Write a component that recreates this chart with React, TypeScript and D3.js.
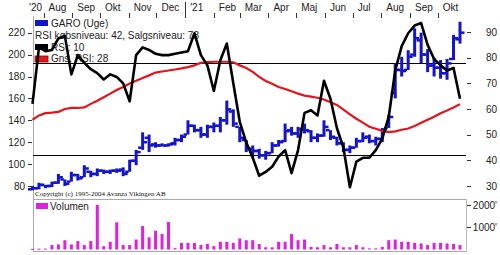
import React from "react";
import * as d3 from "d3";

// ---------- data ----------
const weekStart = new Date(2020, 6, 20);
const weekCount = 67;
const lastWeek = new Date(2021, 9, 25);

const priceLow = [76,77,78,79,82,80,84,85,88,88,89,91,91,92,89,93,99,113,111,115,116,116,117,120,127,129,124,124,129,129,136,134,120,111,106,105,104,110,116,120,126,124,128,120,120,125,122,117,111,110,115,120,119,117,120,133,160,180,186,198,192,184,180,178,177,195,210];
const priceHigh = [80,83,81,84,91,86,93,91,99,94,96,95,95,96,97,104,113,129,127,120,119,119,124,127,140,136,134,136,138,143,158,150,134,122,117,114,112,120,122,137,134,134,137,131,128,140,131,125,120,117,124,129,127,125,133,145,192,198,204,224,220,205,197,195,196,218,230];
const priceOpen = [77,78,81,80,83,86,84,90,88,93,91,94,93,94,95,93,103,115,124,118,117,117,119,122,127,135,131,127,134,135,140,148,134,122,114,112,108,110,117,121,131,128,132,130,124,126,131,124,119,113,115,121,125,121,123,133,165,186,186,200,213,200,190,188,183,196,214];
const priceClose = [78,81,80,83,88,82,90,87,96,91,94,93,94,94,91,103,111,120,117,117,117,118,122,125,135,131,127,134,135,140,150,137,124,114,112,108,110,117,120,130,128,132,131,124,126,134,125,119,113,115,121,124,121,123,131,143,186,185,198,215,200,190,188,183,192,215,220];
const rsi10 = [62,84,82.5,83,87.5,88.5,73.5,81,78,75.5,74,71.5,73.5,72.5,70,63,81,84,83,81.5,81,81,81.5,82,82.5,89.5,81,77,67,79,85.5,70,55,47,41,34,35.5,37.5,41.5,44,35,44,58.5,59.5,57.5,71,64,52.5,45,29.5,39.5,41,41,44,48.5,57,75,84.5,89.5,92.5,93.5,85,79.5,77,75,76,64];
const rsiAvg28 = [55.8,57.5,58.4,58.6,58.9,60,60.4,60.4,60.6,62,63.2,64.6,66,67.4,68.6,69.9,71,72.1,73.1,74.2,74.6,75,75.4,75.8,76.3,77,78,78.3,78.4,78.4,78.4,78.2,77,76,74.5,72.5,70.9,69.8,68.6,67.8,66.9,66,65.2,64.8,64.4,63.7,62.6,61.6,59.8,57.9,56.2,54.7,53.1,52.3,51.5,51,51.3,51.9,52.4,53.4,54.6,55.8,57,58.3,59.4,60.6,61.9];
const volume = [30,40,40,200,230,420,230,380,200,380,2020,150,350,1230,200,200,450,1060,550,850,700,1250,60,300,300,300,200,250,150,350,350,300,500,420,420,250,100,100,350,350,700,420,450,120,100,200,100,250,100,100,200,100,50,50,120,420,450,350,350,300,275,200,300,300,275,250,200];

const monthNames = ["Jan","Feb","Mar","Apr","Maj","Jun","Jul","Aug","Sep","Okt","Nov","Dec"];
const priceTicks = [80,100,120,140,160,180,200,220];
const rsiTicks = [30,40,50,60,70,80,90];
const volumeTicks = [1000,2000];
const buyLevel = 42;
const sellLevel = 78;
const legendMain = ["GARO (Uge)", "RSI købsniveau: 42, Salgsniveau: 78", "RSI: 10", "Gns. RSI: 28"];
const copyright = "Copyright (c) 1995-2004 Avanza Vikingen AB";

// ---------- layout ----------
const W = 500, H = 255;
const L = 33, R = 466;
const FONT = "'Liberation Sans', Arial, sans-serif";
const BLUE = "#1414cc";
const RED = "#e3141c";
const MAG = "#e020e0";

export default function App() {
  const dates = d3.range(weekCount).map((i) => d3.timeDay.offset(weekStart, 7 * i));
  const x = d3.scaleTime().domain([weekStart, lastWeek]).range([32.5, 460]);
  const yP = d3.scaleLinear().domain([80, 220]).range([186, 32.7]);
  const yR = d3.scaleLinear().domain([30, 90]).range([186, 32]);
  const yV = d3.scaleLinear().domain([0, 2000]).range([249.5, 205.3]);

  const rsiLine = d3.line<number>().x((_, i) => x(dates[i])).y((d) => yR(d));
  const months = d3.timeMonth.range(new Date(2020, 6, 1), new Date(2021, 10, 1));

  const txt = { fontFamily: FONT, fontSize: 10, fill: "#222" } as const;

  return (
    <svg width={W} height={H} style={{ display: "block", position: "absolute", left: 0, top: 0, background: "#fff" }}>
      <rect width={W} height={H} fill="#fff" />
      {/* month axis */}
      {months.map((m, k) => {
        const tx = x(m);
        const isYear = m.getMonth() === 0 || k === 0;
        const label = isYear ? "'" + String(m.getFullYear()).slice(2) : monthNames[m.getMonth()];
        return (
          <g key={k}>
            {tx >= L && (
              <line x1={Math.round(tx) + 0.5} x2={Math.round(tx) + 0.5} y1={m.getMonth() === 0 ? 2 : 13} y2={18} stroke="#333" strokeWidth={1} />
            )}
            <text x={Math.max(tx + 5, 29)} y={11} {...txt}>{label}</text>
          </g>
        );
      })}

      {/* frames */}
      <line x1={L + 0.5} x2={L + 0.5} y1={16} y2={252} stroke="#aaa" />
      <line x1={R + 0.5} x2={R + 0.5} y1={199} y2={252} stroke="#bbb" />
      <line x1={L} x2={R} y1={199.5} y2={199.5} stroke="#aaa" />
      <line x1={L} x2={R} y1={251.5} y2={251.5} stroke="#aaa" />

      {/* left price axis */}
      {priceTicks.map((t) => (
        <g key={t}>
          <line x1={28} x2={32} y1={Math.round(yP(t)) + 0.5} y2={Math.round(yP(t)) + 0.5} stroke="#333" />
          <text x={25} y={yP(t) + 3.5} textAnchor="end" {...txt}>{t}</text>
        </g>
      ))}
      {/* right RSI axis */}
      {rsiTicks.map((t) => (
        <g key={t}>
          <line x1={467} x2={471} y1={Math.round(yR(t)) + 0.5} y2={Math.round(yR(t)) + 0.5} stroke="#333" />
          <text x={497} y={yR(t) + 3.5} textAnchor="end" {...txt}>{t}</text>
        </g>
      ))}
      {/* volume axis */}
      {volumeTicks.map((t) => (
        <g key={t}>
          <line x1={467} x2={471} y1={Math.round(yV(t)) + 0.5} y2={Math.round(yV(t)) + 0.5} stroke="#333" />
          <text x={497} y={yV(t) + 3.5} textAnchor="end" {...txt}>{t + "'"}</text>
        </g>
      ))}

      {/* legend main */}
      <rect x={35} y={20} width={13} height={6} fill={BLUE} />
      <text x={51} y={27} {...txt}>{legendMain[0]}</text>
      <text x={35} y={38.5} {...txt}>{legendMain[1]}</text>
      <rect x={35} y={44} width={13} height={6} fill="#000" />
      <text x={51} y={50.5} {...txt}>{legendMain[2]}</text>
      <rect x={35} y={56} width={13} height={6} fill={RED} stroke="#900" strokeWidth={0.8} />
      <text x={51} y={62} {...txt}>{legendMain[3]}</text>

      {/* RSI levels */}
      <line x1={L} x2={R} y1={Math.round(yR(buyLevel)) + 0.5} y2={Math.round(yR(buyLevel)) + 0.5} stroke="#000" />
      <line x1={L} x2={R} y1={Math.round(yR(sellLevel)) + 0.5} y2={Math.round(yR(sellLevel)) + 0.5} stroke="#000" />

      {/* price bars */}
      {dates.map((d, i) => {
        const cx = x(d);
        return (
          <g key={i} fill={BLUE}>
            <rect x={cx - 1.5} y={yP(priceHigh[i])} width={3} height={Math.max(2, yP(priceLow[i]) - yP(priceHigh[i]))} />
            <rect x={cx - 4.5} y={yP(priceOpen[i]) - 1.25} width={3.5} height={2.5} />
            <rect x={cx + 1} y={yP(priceClose[i]) - 1.25} width={3.5} height={2.5} />
          </g>
        );
      })}

      <text x={35} y={196} fontFamily="'Liberation Serif', 'Times New Roman', serif" fontSize={7} fill="#111">{copyright}</text>

      {/* RSI lines */}
      <path d={rsiLine(rsiAvg28) || ""} fill="none" stroke={RED} strokeWidth={2.2} />
      <path d={rsiLine(rsi10) || ""} fill="none" stroke="#000" strokeWidth={2.6} strokeLinejoin="round" />

      {/* volume */}
      <rect x={36} y={203} width={12} height={6} fill={MAG} />
      <text x={50} y={210} {...txt}>Volumen</text>
      {dates.map((d, i) => (
        <rect key={i} x={x(d) - 1.5} y={yV(volume[i])} width={3} height={Math.max(1, yV(0) - yV(volume[i]))} fill={MAG} />
      ))}
    </svg>
  );
}
